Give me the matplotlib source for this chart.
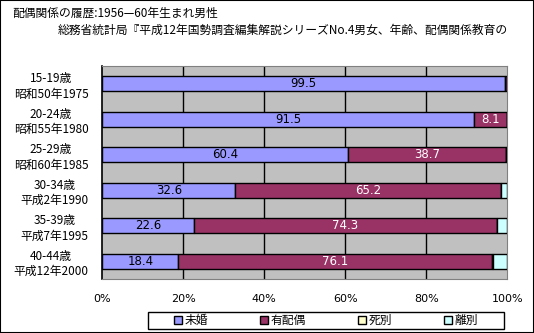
#!/usr/bin/env python3
"""
Marital status history, men born 1956-60: 100% stacked horizontal bars
by age group / census year.
"""

import numpy as np
import matplotlib.pyplot as plt
from matplotlib.patches import Rectangle

plt.rcParams["font.family"] = ["Noto Sans CJK JP", "DejaVu Sans"]

TITLE = "配偶関係の履歴:1956—60年生まれ男性"
SUBTITLE = "総務省統計局『平成12年国勢調査編集解説シリーズNo.4男女、年齢、配偶関係教育の"

categories = [
    "15-19歳\n昭和50年1975",
    "20-24歳\n昭和55年1980",
    "25-29歳\n昭和60年1985",
    "30-34歳\n平成2年1990",
    "35-39歳\n平成7年1995",
    "40-44歳\n平成12年2000",
]
series_names = ["未婚", "有配偶", "死別", "離別"]

# raw percentages (rows do not sum to exactly 100: "unknown" is left out)
unmarried = [99.5, 91.5, 60.4, 32.6, 22.6, 18.4]
married = [0.5, 8.1, 38.7, 65.2, 74.3, 76.1]
widowed = [0.0, 0.0, 0.0, 0.0, 0.1, 0.2]
divorced = [0.0, 0.1, 0.4, 1.5, 2.5, 3.4]

series_colors = ["#9999FF", "#993366", "#FFFFCC", "#CCFFFF"]
label_colors = ["black", "white", None, None]
label_min = 5.0


def main():
    raw = np.array([unmarried, married, widowed, divorced], dtype=float)
    share = raw / raw.sum(axis=0) * 100.0

    fig = plt.figure(figsize=(5.34, 3.33), dpi=100)
    fig.patch.set_facecolor("white")
    fig.patches.append(
        Rectangle((0, 0), 1, 1, transform=fig.transFigure, fill=False,
                  edgecolor="black", lw=1.5)
    )

    ax = fig.add_axes([102.3 / 534, 1 - 279 / 333, 405 / 534, 213 / 333])
    ax.set_facecolor("#C0C0C0")

    y = np.arange(len(categories))
    left = np.zeros(len(categories))
    handles = []
    for k, name in enumerate(series_names):
        bars = ax.barh(y, share[k], left=left, height=0.41,
                       color=series_colors[k], edgecolor="black", lw=1.0,
                       label=name, zorder=3)
        handles.append(bars)
        if label_colors[k] is not None:
            for i in range(len(categories)):
                if raw[k, i] >= label_min:
                    ax.text(left[i] + share[k, i] / 2, y[i], f"{raw[k, i]:.1f}",
                            ha="center", va="center", fontsize=8.5,
                            color=label_colors[k], zorder=4,
                            family=["DejaVu Sans"])
        left += share[k]

    ax.set_xlim(0, 100)
    ax.set_ylim(len(categories) - 0.5, -0.5)
    ax.set_xticks(np.arange(0, 101, 20))
    ax.set_xticklabels([f"{v}%" for v in range(0, 101, 20)], fontsize=8,
                       family=["DejaVu Sans"])
    ax.set_yticks(y)
    ax.set_yticklabels(categories, fontsize=8.5, multialignment="center",
                       linespacing=1.25)
    ax.tick_params(axis="both", length=0)
    ax.tick_params(axis="y", pad=10)
    ax.tick_params(axis="x", pad=11)

    for v in range(20, 100, 20):
        ax.axvline(v, color="black", lw=1.0, zorder=1)

    for side in ("top", "right", "bottom"):
        ax.spines[side].set_color("#808080")
    ax.spines["left"].set_color("black")
    ax.spines["left"].set_linewidth(1.2)

    fig.text(12 / 534, 1 - 13 / 333, TITLE, fontsize=8.5, va="center", ha="left")
    fig.text(58 / 534, 1 - 30 / 333, SUBTITLE, fontsize=8.5, va="center", ha="left")

    # legend box drawn separately so the entries can sit centred inside it
    fig.patches.append(
        Rectangle((148 / 534, 1 - 329 / 333), 356 / 534, 17 / 333,
                  transform=fig.transFigure, fill=False,
                  edgecolor="black", lw=1.0)
    )
    fig.legend(handles, series_names, ncol=4, loc="center",
               bbox_to_anchor=(326 / 534, 1 - 320.5 / 333),
               fontsize=8.5, frameon=False,
               handlelength=0.7, handleheight=0.7, handletextpad=0.2,
               columnspacing=4.4, borderpad=0.0, borderaxespad=0.0)

    fig.savefig("out.png", dpi=100)


if __name__ == "__main__":
    main()
